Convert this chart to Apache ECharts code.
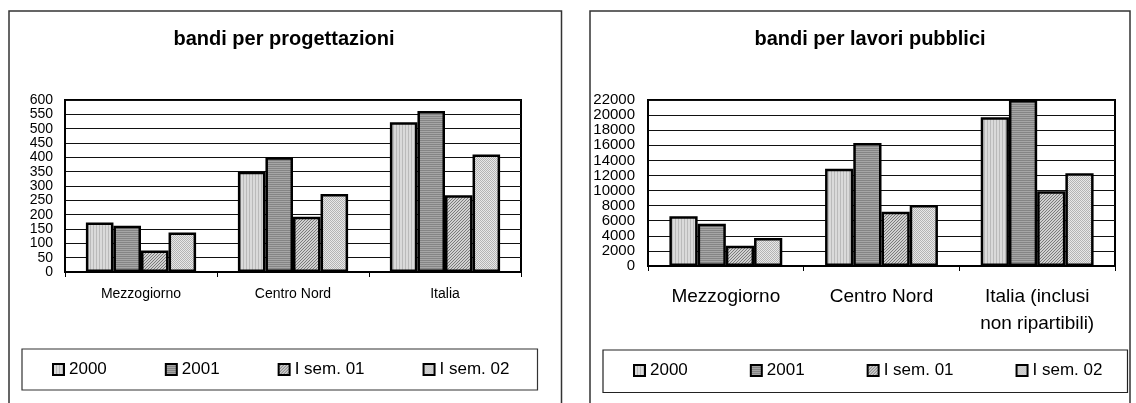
<!DOCTYPE html>
<html>
<head>
<meta charset="utf-8">
<script src="https://cdn.jsdelivr.net/npm/echarts@6/dist/echarts.min.js"></script>
<style>
html,body{margin:0;padding:0;background:#fff;}
#c{width:1136px;height:403px;}
</style>
</head>
<body>
<div id="c"></div>
<script>
// ---- data ----
const seriesNames = ['2000', '2001', 'I sem. 01', 'I sem. 02'];
const catsProg = ['Mezzogiorno', 'Centro Nord', 'Italia'];
const catsLav = ['Mezzogiorno', 'Centro Nord', 'Italia (inclusi\nnon ripartibili)'];
const prog2000 = [173, 350, 522];
const prog2001 = [161, 400, 562];
const progSem01 = [75, 193, 268];
const progSem02 = [138, 272, 410];
const lav2000 = [6600, 12900, 19700];
const lav2001 = [5600, 16300, 22000];
const lavSem01 = [2700, 7200, 9900];
const lavSem02 = [3700, 8100, 12300];
const titleProg = 'bandi per progettazioni';
const titleLav = 'bandi per lavori pubblici';

// ---- patterns ----
function makePattern(kind) {
  const c = document.createElement('canvas');
  const ctx = c.getContext('2d');
  if (kind === 'vert') {
    c.width = 3; c.height = 3;
    ctx.fillStyle = '#dadada'; ctx.fillRect(0, 0, 3, 3);
    ctx.fillStyle = '#bababa'; ctx.fillRect(0, 0, 1, 3);
  } else if (kind === 'horiz') {
    c.width = 3; c.height = 2;
    ctx.fillStyle = '#a6a6a6'; ctx.fillRect(0, 0, 3, 2);
    ctx.fillStyle = '#858585'; ctx.fillRect(0, 0, 3, 1);
  } else if (kind === 'diag') {
    c.width = 3; c.height = 3;
    ctx.fillStyle = '#d0d0d0'; ctx.fillRect(0, 0, 3, 3);
    ctx.fillStyle = '#7a7a7a';
    for (let i = 0; i < 3; i++) ctx.fillRect(2 - i, i, 1, 1);
  } else {
    c.width = 2; c.height = 2;
    ctx.fillStyle = '#e8e8e8'; ctx.fillRect(0, 0, 2, 2);
    ctx.fillStyle = '#b4b4b4'; ctx.fillRect(0, 0, 1, 1); ctx.fillRect(1, 1, 1, 1);
  }
  return { image: c, repeat: 'repeat' };
}
const fills = [makePattern('vert'), makePattern('horiz'), makePattern('diag'), makePattern('dots')];

const FONT = 'Liberation Sans';
const progData = [prog2000, prog2001, progSem01, progSem02];
const lavData = [lav2000, lav2001, lavSem01, lavSem02];

function barSeries(data, idx) {
  return data.map((vals, i) => ({
    type: 'bar',
    name: seriesNames[i],
    xAxisIndex: idx,
    yAxisIndex: idx,
    data: vals,
    barGap: '0%',
    barCategoryGap: '27.5%',
    itemStyle: { color: fills[i], borderColor: '#000', borderWidth: 2.5 }
  }));
}

const chart = echarts.init(document.getElementById('c'), null, { renderer: 'canvas' });
const option = {
  animation: false,
  backgroundColor: '#fff',
  textStyle: { fontFamily: FONT, color: '#000' },
  title: [
    { text: titleProg, left: 284, top: 29, textAlign: 'center', padding: 0,
      textStyle: { fontFamily: FONT, fontSize: 20, fontWeight: 'bold', color: '#000' } },
    { text: titleLav, left: 870, top: 29, textAlign: 'center', padding: 0,
      textStyle: { fontFamily: FONT, fontSize: 20, fontWeight: 'bold', color: '#000' } }
  ],
  legend: [
    { data: seriesNames, left: 52, top: 361, padding: 0, itemGap: 58, itemWidth: 11, itemHeight: 11,
      icon: 'rect', selectedMode: false,
      itemStyle: { borderColor: '#000', borderWidth: 2 },
      textStyle: { fontFamily: FONT, fontSize: 17, color: '#000' } },
    { data: seriesNames, left: 633, top: 362, padding: 0, itemGap: 62, itemWidth: 11, itemHeight: 11,
      icon: 'rect', selectedMode: false,
      itemStyle: { borderColor: '#000', borderWidth: 2 },
      textStyle: { fontFamily: FONT, fontSize: 17, color: '#000' } }
  ],
  grid: [
    { left: 65, width: 456, top: 100, height: 172, show: true, borderColor: '#000', borderWidth: 2, backgroundColor: 'transparent' },
    { left: 648, width: 467, top: 100, height: 166, show: true, borderColor: '#000', borderWidth: 2, backgroundColor: 'transparent' }
  ],
  xAxis: [
    { type: 'category', gridIndex: 0, data: catsProg,
      axisLine: { lineStyle: { color: '#000', width: 2 } },
      axisTick: { show: true, length: 5, lineStyle: { color: '#000', width: 1 } },
      axisLabel: { margin: 15, fontFamily: FONT, fontSize: 14, color: '#000' },
      splitLine: { show: false } },
    { type: 'category', gridIndex: 1, data: catsLav,
      axisLine: { lineStyle: { color: '#000', width: 2 } },
      axisTick: { show: true, length: 5, lineStyle: { color: '#000', width: 1 } },
      axisLabel: { margin: 17, fontFamily: FONT, fontSize: 19, lineHeight: 27, color: '#000' },
      splitLine: { show: false } }
  ],
  yAxis: [
    { type: 'value', gridIndex: 0, min: 0, max: 600, interval: 50,
      axisLine: { show: true, lineStyle: { color: '#000', width: 2 } },
      axisTick: { show: false },
      axisLabel: { margin: 12, fontFamily: FONT, fontSize: 14, lineHeight: 13, color: '#000',
        showMinLabel: true, showMaxLabel: true, hideOverlap: false, formatter: v => String(v) },
      splitLine: { lineStyle: { color: '#111', width: 1 } } },
    { type: 'value', gridIndex: 1, min: 0, max: 22000, interval: 2000,
      axisLine: { show: true, lineStyle: { color: '#000', width: 2 } },
      axisTick: { show: false },
      axisLabel: { margin: 13, fontFamily: FONT, fontSize: 15, lineHeight: 14, color: '#000',
        showMinLabel: true, showMaxLabel: true, hideOverlap: false, formatter: v => String(v) },
      splitLine: { lineStyle: { color: '#111', width: 1 } } }
  ],
  series: barSeries(progData, 0).concat(barSeries(lavData, 1)),
  graphic: [
    { type: 'rect', shape: { x: 9, y: 11, width: 552.5, height: 420 }, style: { fill: 'none', stroke: '#333', lineWidth: 1.5 }, silent: true },
    { type: 'rect', shape: { x: 590, y: 11, width: 540, height: 420 }, style: { fill: 'none', stroke: '#333', lineWidth: 1.5 }, silent: true },
    { type: 'rect', shape: { x: 22, y: 349, width: 515.5, height: 41 }, style: { fill: 'none', stroke: '#333', lineWidth: 1.2 }, silent: true },
    { type: 'rect', shape: { x: 603, y: 350, width: 524.5, height: 42.5 }, style: { fill: 'none', stroke: '#222', lineWidth: 1.2 }, silent: true }
  ]
};
chart.setOption(option);
</script>
</body>
</html>
